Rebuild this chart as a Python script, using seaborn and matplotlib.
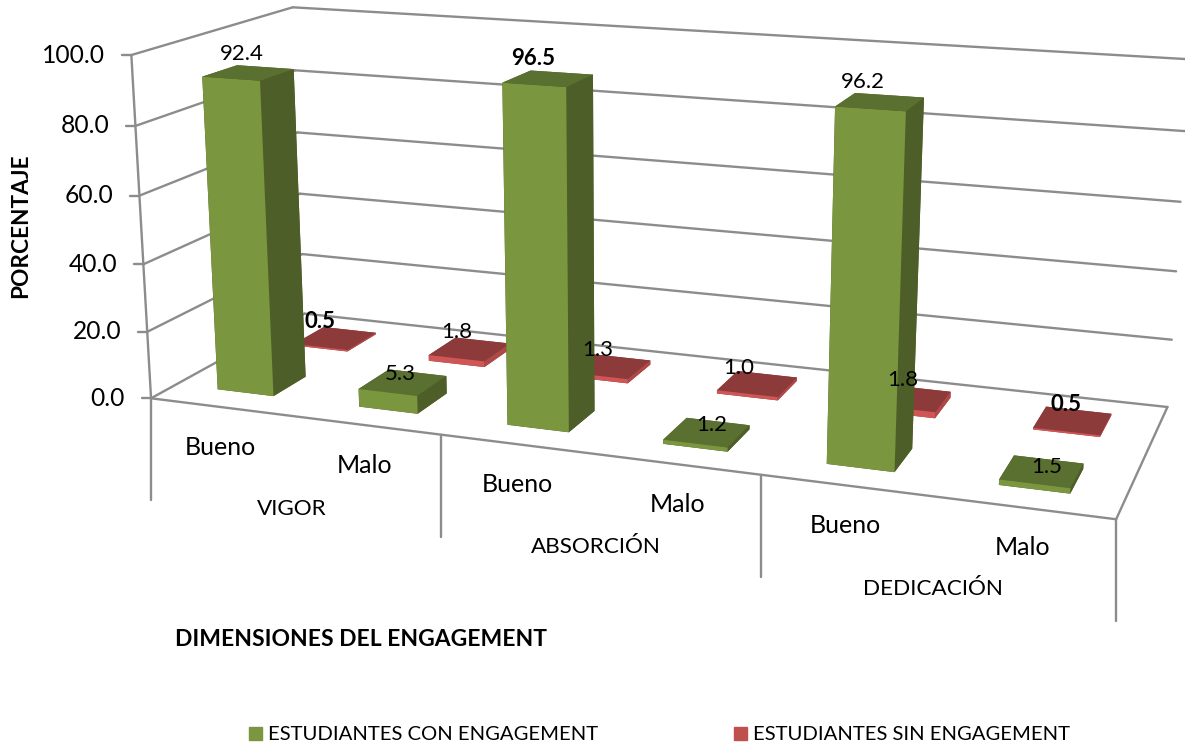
import numpy as np
import matplotlib
matplotlib.use('Agg')
import matplotlib.pyplot as plt
import seaborn as sns
from matplotlib.lines import Line2D
from matplotlib.patches import Patch
from mpl_toolkits.mplot3d import proj3d

# datos del grafico
grupos = ['VIGOR', 'ABSORCIÓN', 'DEDICACIÓN']
niveles = ['Bueno', 'Malo', 'Bueno', 'Malo', 'Bueno', 'Malo']
con_engagement = [92.4, 5.3, 96.5, 1.2, 96.2, 1.5]
sin_engagement = [0.5, 1.8, 1.3, 1.0, 1.8, 0.5]
ticks_y = [0, 20, 40, 60, 80, 100]
series = ['ESTUDIANTES CON ENGAGEMENT', 'ESTUDIANTES SIN ENGAGEMENT']

# etiquetas en negrita (serie, indice)
negrita = {(0, 2), (1, 0), (1, 5)}
# desplazamiento de cada etiqueta respecto a la tapa de su barra, en pixeles
offset_con = [(-7, -19), (-3, -8), (-15, -20), (5, -7), (-17, -20), (5, -4)]
offset_sin = [(-15, -17), (-13, -17), (-13, -16), (-19, -16), (-9, -18), (-7, -16)]

ANCHO, ALTO = 1185, 749
sns.set_theme(style='white', font='Lato')
plt.rcParams['font.family'] = ['Lato', 'DejaVu Sans']

verde, rojo = sns.color_palette(['#7a963e', '#c0504d'])
caras_verde = ['#4d5e28', '#5a7030', '#7a963e', '#4d5e28', '#4d5e28', '#4d5e28']
caras_rojo = ['#8c3a3a', '#8c3a3a', '#d05555', '#8c3a3a', '#8c3a3a', '#b04848']
GRIS = '#8c8c8c'

# camara: esquinas de la caja (x, profundidad, valor) y donde caen en la imagen
caja = [(0, 0, 0), (2, 0, 0), (4, 0, 0), (6, 0, 0), (6, 2, 0), (0, 2, 0),
        (0, 0, 100), (0, 2, 100), (6, 2, 100), (6, 2, 60)]
imagen = [(152, 398), (441, 436), (761, 476), (1116, 518), (1168, 407), (304, 313),
          (131, 54), (293, 8), (1190, 60), (1180, 201)]


def matriz_camara(caja, imagen):
    filas = []
    for (x, y, z), (u, v) in zip(caja, imagen):
        z, u, v = z / 50, u / 500, v / 500
        filas.append([x, y, z, 1, 0, 0, 0, 0, -u * x, -u * y, -u * z, -u])
        filas.append([0, 0, 0, 0, x, y, z, 1, -v * x, -v * y, -v * z, -v])
    p = np.linalg.svd(np.array(filas))[2][-1].reshape(3, 4)
    p = np.diag([500, 500, 1]) @ p @ np.diag([1, 1, 1 / 50, 1])
    if p[2, 3] < 0:
        p = -p
    return np.vstack([p[0], p[1], [0, 0, 0, -1], p[2]])


M = matriz_camara(caja, imagen)


def proyecta(x, y, z):
    px, py, _ = proj3d.proj_transform(x, y, z, M)
    return float(px), float(py)


fig = plt.figure(figsize=(ANCHO / 100, ALTO / 100), dpi=100)
ax = fig.add_subplot(projection='3d', computed_zorder=False)
ax.set_axis_off()
ax.get_proj = lambda: M
ax.apply_aspect = lambda position=None: None
ax.set_position([0, 0, 1, 1])
ax.patch.set_visible(False)


def linea(p0, p1):
    (x0, y0), (x1, y1) = proyecta(*p0), proyecta(*p1)
    ax.add_line(Line2D([x0, x1], [y0, y1], color=GRIS, lw=1.7, zorder=1, solid_capstyle='round'))


# paredes y suelo
for t in ticks_y:
    linea((0, 0, t), (0, 2, t))
    linea((0, 2, t), (6, 2, t))
linea((0, 0, 0), (6, 0, 0))
linea((6, 0, 0), (6, 2, 0))
linea((0, 0, 0), (0, 0, 100))

pos = np.arange(len(niveles))
# primero la serie del fondo, despues la de delante
ax.bar3d(pos + 0.3, np.full(6, 1.3), np.zeros(6), 0.4, 0.42, sin_engagement,
         color=caras_rojo * 6, shade=False, edgecolor='none', zorder=2)
ax.bar3d(pos + 0.3, np.full(6, 0.3), np.zeros(6), 0.4, 0.42, con_engagement,
         color=caras_verde * 6, shade=False, edgecolor='none', zorder=3)

# separadores de grupo bajo el suelo
for x in [0, 2, 4, 6]:
    px, py = proyecta(x, 0, 0)
    ax.add_line(Line2D([px, px], [py, py + 102], color=GRIS, lw=1.7, zorder=1))

# marcas y etiquetas del eje de valores
for t in ticks_y:
    px, py = proyecta(0, 0, t)
    ax.add_line(Line2D([px - 9, px], [py, py], color=GRIS, lw=1.7, zorder=1))
    ax.annotate(f'{t:.1f}', (px, py), xytext=(-26, 0), textcoords='offset pixels',
                ha='right', va='center', fontsize=17.7, color='black')

# etiquetas de categorias
for i, nivel in enumerate(niveles):
    ax.annotate(nivel, proyecta(i + 0.5, 0, 0), xytext=(-1, -40), textcoords='offset pixels',
                ha='center', va='center', fontsize=18, color='black')
for j, grupo in enumerate(grupos):
    ax.annotate(grupo, proyecta(2 * j + 1, 0, 0), xytext=(-1, -93), textcoords='offset pixels',
                ha='center', va='center', fontsize=16.2, color='black')

# etiquetas de valor
for s, (valores, offsets, y0) in enumerate([(con_engagement, offset_con, 0.51),
                                            (sin_engagement, offset_sin, 1.51)]):
    for i, v in enumerate(valores):
        dx, dy = offsets[i]
        ax.annotate(f'{v:.1f}', proyecta(i + 0.5, y0, v), xytext=(dx, -dy), textcoords='offset pixels',
                    ha='center', va='center', fontsize=16, color='black', zorder=5,
                    fontweight='bold' if (s, i) in negrita else 'normal')

ax.viewLim.intervalx = (0, ANCHO)
ax.viewLim.intervaly = (ALTO, 0)

fig.text(21 / ANCHO, 1 - 226 / ALTO, 'PORCENTAJE', rotation=90, ha='center', va='center',
         fontsize=16.3, fontweight='bold', color='black')
fig.text(361 / ANCHO, 1 - 639 / ALTO, 'DIMENSIONES DEL ENGAGEMENT', ha='center', va='center',
         fontsize=16.5, fontweight='bold', color='black')

fig.legend(handles=[Patch(color=verde), Patch(color=rojo)], labels=series, ncol=2, frameon=False,
           loc='center', bbox_to_anchor=(659.5 / ANCHO, 1 - 735 / ALTO), fontsize=14.6,
           handlelength=0.64, handleheight=0.64, handletextpad=0.28, columnspacing=6.7, labelcolor='black')

fig.savefig('out.png', dpi=100)
